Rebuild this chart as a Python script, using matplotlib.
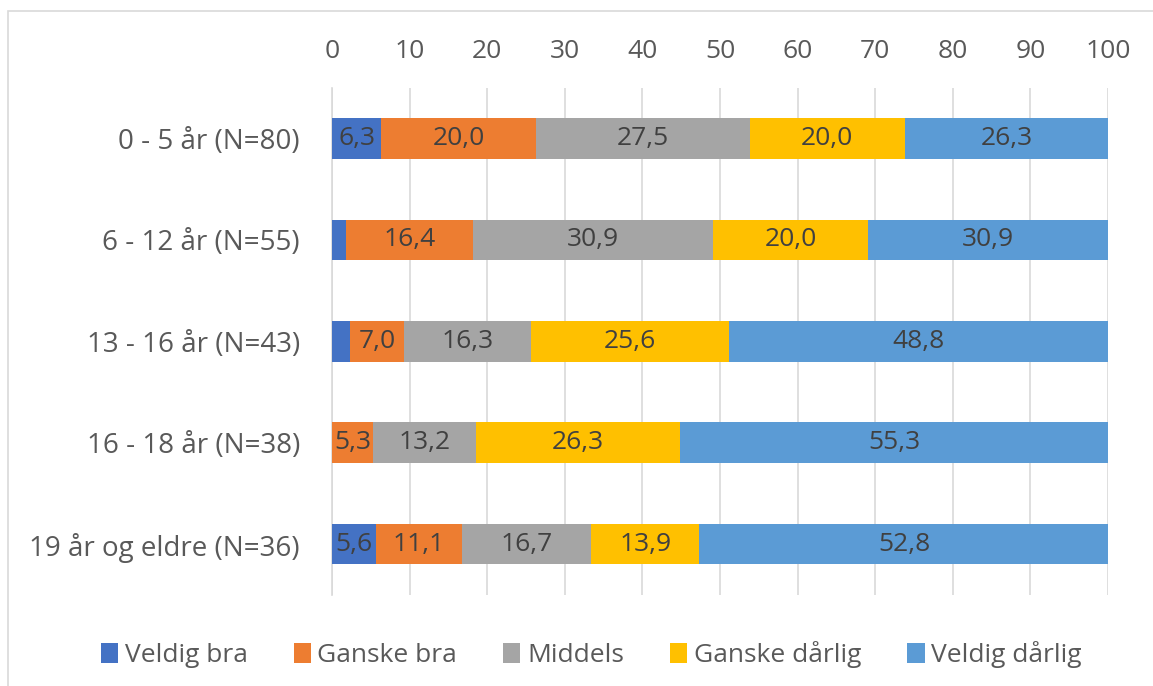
import numpy as np
import matplotlib.pyplot as plt
from matplotlib.patches import Rectangle

plt.rcParams['font.family'] = ['Open Sans', 'DejaVu Sans']

groups = ['0 - 5 år (N=80)', '6 - 12 år (N=55)', '13 - 16 år (N=43)',
          '16 - 18 år (N=38)', '19 år og eldre (N=36)']
series = ['Veldig bra', 'Ganske bra', 'Middels', 'Ganske dårlig', 'Veldig dårlig']
colors = ['#4472C4', '#ED7D31', '#A5A5A5', '#FFC000', '#5B9BD5']

veldig_bra = [6.3, 1.8, 2.3, 0.0, 5.6]
ganske_bra = [20.0, 16.4, 7.0, 5.3, 11.1]
middels = [27.5, 30.9, 16.3, 13.2, 16.7]
ganske_darlig = [20.0, 20.0, 25.6, 26.3, 13.9]
veldig_darlig = [26.3, 30.9, 48.8, 55.3, 52.8]

data = [veldig_bra, ganske_bra, middels, ganske_darlig, veldig_darlig]

fig = plt.figure(figsize=(11.53, 6.86), dpi=100)
ax = fig.add_axes([0.288, 0.133, 0.673, 0.739])

# light frame around the chart
fig.patches.append(Rectangle((8/1153, -0.05), 1.2, 1 - 11/686 + 0.05,
                             transform=fig.transFigure, fill=False,
                             edgecolor='#D9D9D9', lw=1.2))

y = np.arange(len(groups))
left = np.zeros(len(groups))
for vals, name, c in zip(data, series, colors):
    vals = np.array(vals)
    ax.barh(y, vals, left=left, height=0.4, color=c, label=name, zorder=3)
    for i, v in enumerate(vals):
        if v >= 5:
            ax.text(left[i] + v / 2, y[i], f'{v:.1f}'.replace('.', ','),
                    ha='center', va='center', fontsize=19, color='#404040', zorder=4)
    left += vals

ax.set_xlim(0, 100)
ax.set_ylim(4.5, -0.5)
ax.set_xticks(range(0, 101, 10))
ax.set_yticks(y)
ax.set_yticklabels(groups)
ax.xaxis.tick_top()
ax.tick_params(axis='x', length=0, labelsize=19, colors='#595959', pad=17)
ax.tick_params(axis='y', length=0, labelsize=20, colors='#595959', pad=23)
ax.grid(axis='x', color='#D9D9D9', lw=1.2, zorder=0)
for s in ['top', 'right', 'bottom']:
    ax.spines[s].set_visible(False)
ax.spines['left'].set_color('#D9D9D9')
ax.spines['left'].set_linewidth(1.2)

ax.legend(loc='center', bbox_to_anchor=(0.334, -0.118),
          ncol=5, frameon=False, fontsize=19, labelcolor='#595959',
          handlelength=0.65, handleheight=0.75, handletextpad=0.25, columnspacing=1.75)

fig.savefig('out.png', dpi=100)
